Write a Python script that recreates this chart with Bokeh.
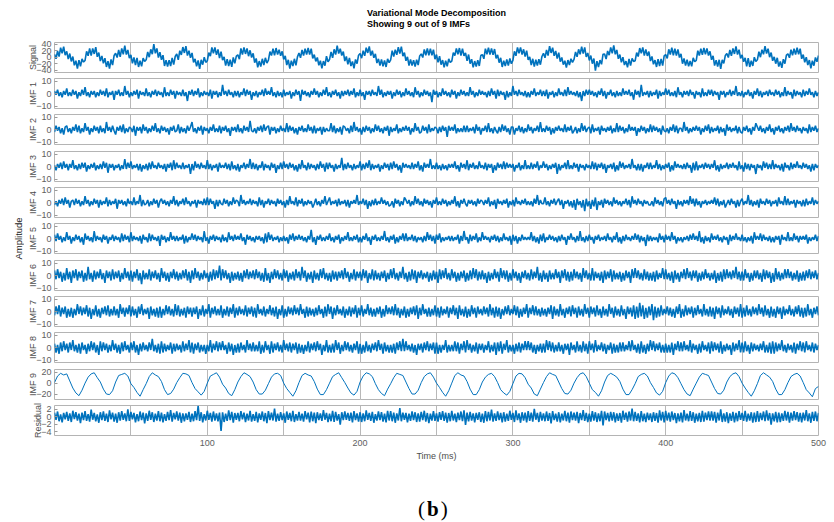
import numpy as np
from bokeh.plotting import figure
from bokeh.models import Range1d, FixedTicker, Grid, Div, Title
from bokeh.core.properties import value
from bokeh.layouts import column, row
from bokeh.embed import file_html
from bokeh.resources import INLINE

# ---------------- data (1 ms sampling, IMF 9 at 2 ms), 0..500 ms ----------------
signal = [
9,-5,19,2,29,12,32,6,18,-6,11,-13,2,-25,-11,-35,-9,-28,-5,-15,
-10,18,4,27,5,27,10,31,1,14,-12,4,-19,-3,-30,-12,-35,-7,-24,5,
12,-1,22,1,27,9,35,8,22,-3,7,-19,-1,-24,-2,-30,-11,-28,-3,-13,
-8,16,0,24,9,40,12,27,-1,15,-8,6,-27,-9,-29,-9,-27,-2,-23,2,
10,-8,20,7,31,13,34,5,20,-2,13,-16,-5,-28,-10,-36,-8,-23,0,-16,
-11,14,3,30,12,30,7,24,-3,17,-9,1,-26,-6,-27,-8,-30,-1,-19,3,
7,-6,27,8,30,10,27,3,21,-1,12,-17,-4,-31,-12,-29,-5,-24,-2,-18,
-9,17,5,26,6,28,8,23,4,18,-7,4,-24,-8,-35,-11,-27,-5,-25,1,
13,-2,22,5,26,8,28,8,26,-4,8,-13,-1,-25,-11,-34,-12,-26,3,-14,
-7,16,-2,24,8,35,11,26,5,17,-12,2,-22,-2,-27,-13,-34,-7,-20,6,
11,-3,20,4,29,13,33,5,20,-2,10,-18,-5,-26,-7,-28,-10,-30,-5,-17,
-8,20,2,23,7,31,11,32,3,14,-11,1,-26,-7,-26,-9,-29,-8,-24,4,
10,-1,24,6,27,6,26,6,23,-6,8,-16,3,-23,-9,-31,-11,-28,-5,-16,
-12,14,5,27,9,28,5,26,4,13,-11,8,-20,-6,-31,-12,-29,-9,-27,5,
8,-5,26,9,29,8,27,7,25,-4,7,-17,-2,-30,-11,-27,-7,-26,-4,-20,
-10,18,4,30,12,30,8,24,2,20,-8,1,-24,-5,-29,-8,-26,-6,-23,2,
12,-2,22,5,34,13,29,4,19,-4,14,-14,-1,-23,-11,-32,-9,-24,-5,-16,
-7,16,1,24,9,32,11,30,1,13,-10,5,-20,-4,-41,-12,-30,-9,-22,9,
10,-6,19,6,30,12,36,9,22,-5,8,-16,0,-24,-12,-31,-5,-26,-4,-13,
-11,14,2,28,12,30,5,24,4,17,-12,2,-22,-9,-30,-6,-27,-5,-26,4,
8,-4,24,8,29,6,26,5,24,-1,10,-20,-4,-26,-8,-28,-12,-28,-2,-14,
-10,20,5,26,7,28,9,27,5,18,-8,4,-26,-9,-29,-8,-36,-8,-19,5,
11,-1,22,4,27,10,33,8,23,-4,7,-14,-2,-28,-3,-30,-11,-27,0,-13,
-8,17,0,23,9,34,11,26,0,14,-11,1,-20,-2,-29,-13,-33,-6,-20,6,
10,-2,23,6,26,8,29,9,26,-5,8,-16,0,-24,-9,-34,-11,-26,-1,-14,
5,
]

imf1 = [
2,-1,3,-2,1,-3,2,-1,4,-2,1,-2,3,-1,2,-4,1,-2,3,-1,
5,-2,1,-3,2,-1,2,-3,1,-2,3,-1,2,-2,4,-3,1,-1,2,-5,
2,-1,3,-2,1,-2,6,-1,2,-3,1,-2,2,-1,3,-4,2,-1,1,-2,
4,-2,1,-3,2,-1,3,-2,2,-1,1,-3,5,-2,1,-2,3,-1,2,-4,
2,-1,1,-2,3,-2,1,-6,2,-1,3,-2,2,-1,4,-3,1,-2,2,-1,
1,-2,3,-4,2,-1,2,-3,1,-2,7,-1,2,-2,3,-1,1,-3,2,-2,
2,-3,1,-1,4,-2,3,-1,2,-5,1,-2,2,-3,1,-1,3,-2,4,-1,
2,-1,5,-2,1,-3,2,-2,1,-3,3,-2,1,-1,2,-4,1,-2,3,-1,
2,-6,3,-1,2,-2,1,-3,2,-1,4,-1,2,-3,1,-2,3,-1,5,-2,
1,-3,2,-1,3,-2,1,-4,2,-2,2,-1,3,-2,2,-1,4,-3,1,-2,
3,-2,1,-5,2,-1,2,-2,3,-1,1,-2,6,-1,3,-3,1,-2,2,-1,
2,-4,1,-2,3,-1,2,-3,1,-2,4,-1,2,-2,1,-3,5,-1,2,-3,
1,-2,3,-1,2,-2,1,-7,3,-1,2,-3,1,-2,4,-1,2,-2,1,-3,
3,-1,2,-4,1,-2,3,-1,2,-2,1,-2,5,-1,2,-3,1,-2,3,-1,
2,-1,1,-3,2,-2,4,-1,2,-4,3,-2,2,-1,1,-5,2,-3,1,-2,
6,-1,2,-2,3,-1,1,-2,2,-3,1,-3,2,-1,4,-2,1,-1,3,-2,
2,-2,3,-4,1,-1,2,-3,1,-2,4,-1,1,-2,3,-2,5,-1,2,-1,
1,-2,2,-3,1,-6,2,-2,3,-1,3,-1,2,-2,1,-3,2,-1,4,-2,
2,-4,1,-1,3,-2,1,-3,2,-2,1,-2,4,-1,2,-1,3,-2,1,-5,
3,-1,2,-3,7,-2,1,-1,2,-3,2,-2,1,-1,3,-4,2,-2,1,-1,
4,-1,3,-2,1,-2,2,-3,5,-1,1,-3,2,-1,2,-2,3,-1,1,-4,
2,-1,1,-3,4,-2,1,-2,3,-1,3,-2,2,-1,1,-5,2,-1,2,-3,
1,-1,3,-2,2,-1,6,-2,1,-2,2,-3,1,-1,3,-2,1,-4,2,-1,
4,-2,2,-3,1,-1,2,-2,3,-1,1,-2,3,-1,2,-3,1,-2,5,-2,
2,-1,1,-4,3,-2,2,-1,1,-3,3,-2,2,-1,4,-1,1,-3,2,-2,
1,
]

imf2 = [
-2,3,-1,2,-3,1,-4,2,3,-2,1,-3,2,-1,4,-2,3,-3,1,-2,
5,-1,2,-4,1,-2,3,-1,2,-3,3,-2,1,-3,6,-1,2,-2,3,-1,
-4,2,-1,3,-2,4,-3,1,-2,2,1,-2,3,-5,2,-1,2,-3,4,-1,
2,-3,1,-2,3,-1,5,-2,1,-3,3,-1,2,-2,1,-4,2,-1,3,-2,
-1,4,-3,2,-2,1,-3,3,-1,2,6,-2,1,-3,2,-1,3,-4,2,-1,
1,-3,2,-1,4,-2,1,-2,3,-3,2,-1,3,-2,1,-5,2,-1,2,-2,
4,-2,1,-3,3,-1,2,-2,7,-1,-2,1,-3,2,-1,3,-2,4,-1,2,
3,-4,2,-1,2,-3,1,-2,3,-1,1,-2,5,-2,3,-1,2,-3,1,-4,
2,-1,3,-2,1,-2,4,-1,2,-3,3,-3,1,-1,2,-4,2,-2,1,-1,
-1,5,-2,3,-3,1,-2,2,-4,3,2,-1,1,-3,3,-2,6,-1,2,-2,
1,-4,2,-2,3,-1,2,-3,1,-2,4,-1,3,-2,1,-3,2,-1,3,-5,
2,-2,1,-1,4,-3,1,-2,2,-1,3,-1,2,-4,1,-2,5,-1,2,-3,
-2,3,-1,2,-3,4,-2,1,-1,2,1,-3,2,-2,3,-1,2,-6,3,-1,
2,-1,4,-3,1,-2,1,-2,3,-2,3,-2,1,-1,2,-3,4,-1,2,-4,
1,-1,3,-2,5,-2,1,-3,2,-1,-3,2,-2,4,-1,3,-2,1,-4,2,
2,-4,1,-1,3,-2,2,-3,1,-2,4,-1,2,-3,1,-1,3,-2,6,-2,
1,-2,3,-1,2,-4,1,-3,2,-1,3,-1,1,-2,4,-2,2,-1,3,-3,
-1,2,-3,1,-2,5,-1,3,-2,1,2,-3,4,-2,1,-1,2,-4,3,-1,
1,-2,2,-1,3,-3,1,-2,5,-2,3,-1,2,-3,1,-2,4,-1,2,-1,
2,-5,1,-2,3,-1,2,-3,1,-2,4,-2,3,-1,2,-2,1,-4,3,-1,
-2,1,-3,2,-1,4,-2,3,-3,1,1,-2,6,-1,2,-3,1,-2,2,-1,
3,-1,2,-4,1,-2,3,-1,4,-3,2,-2,1,-1,3,-3,2,-2,1,-5,
4,-1,2,-2,1,-1,3,-3,2,-2,-3,2,-1,3,-2,1,-4,2,-1,5,
2,-1,3,-2,1,-3,2,-1,4,-2,1,-4,2,-1,3,-2,1,-3,2,-1,
3,-2,5,-1,2,-2,3,-1,1,-3,2,-1,1,-3,4,-2,2,-1,3,-2,
1,
]

imf3 = [
1,-3,2,-1,3,-2,4,-1,2,-3,2,-1,5,-2,1,-3,2,-2,3,-1,
3,-4,1,-2,2,-1,3,-3,1,-2,2,-2,4,-1,3,-5,2,-1,2,-3,
1,-1,2,-3,1,-2,6,-2,3,-1,4,-2,1,-1,2,-3,2,-4,1,-2,
2,-3,3,-2,4,-1,1,-2,3,-1,1,-2,2,-4,2,-1,3,-3,5,-2,
3,-1,1,-2,3,-2,1,-1,2,-6,2,-3,4,-1,2,-2,3,-1,1,-2,
5,-2,2,-3,1,-1,2,-4,3,-1,1,-1,3,-2,2,-3,4,-2,1,-3,
2,-4,1,-1,3,-2,2,-1,6,-2,3,-2,2,-3,1,-1,4,-3,2,-1,
1,-3,3,-1,2,-5,1,-2,3,-2,4,-1,2,-2,3,-1,2,-3,1,-4,
2,-2,5,-1,1,-3,3,-2,2,-1,1,-3,2,-2,4,-1,2,-4,3,-2,
3,-1,1,-4,2,-2,1,-1,7,-3,2,-2,3,-1,1,-3,2,-2,1,-1,
4,-3,2,-2,3,-1,5,-3,2,-2,1,-1,2,-4,1,-2,3,-1,2,-3,
3,-2,4,-1,2,-3,1,-5,3,-1,2,-1,1,-2,3,-2,2,-1,4,-3,
1,-4,3,-1,2,-1,6,-2,1,-2,3,-2,1,-3,2,-2,1,-3,2,-1,
2,-1,4,-2,1,-4,3,-1,2,-2,5,-3,2,-1,3,-2,1,-2,4,-1,
1,-2,3,-3,2,-1,2,-5,1,-3,3,-1,2,-2,4,-2,3,-1,2,-1,
2,-4,1,-1,3,-3,1,-2,5,-2,1,-2,3,-2,2,-1,4,-3,1,-1,
4,-1,2,-3,1,-2,2,-1,3,-6,2,-3,1,-1,3,-2,5,-2,1,-2,
3,-1,2,-4,2,-1,1,-3,2,-1,1,-2,4,-2,3,-3,2,-1,3,-2,
2,-5,1,-1,2,-2,3,-4,1,-3,4,-1,3,-2,1,-1,2,-2,6,-1,
1,-3,2,-3,2,-4,1,-1,3,-2,3,-2,1,-1,5,-2,2,-3,1,-2,
2,-1,3,-4,1,-3,4,-1,2,-1,1,-2,2,-2,3,-1,1,-5,3,-3,
4,-3,1,-1,2,-2,3,-1,2,-2,2,-1,5,-3,1,-4,2,-2,1,-1,
3,-2,2,-1,3,-1,1,-3,4,-2,1,-4,3,-2,2,-3,2,-1,1,-6,
2,-1,1,-3,4,-1,3,-2,2,-2,5,-2,2,-1,1,-3,2,-4,3,-1,
1,-3,3,-2,2,-1,4,-1,1,-2,3,-1,2,-2,1,-4,2,-3,2,-1,
1,
]

imf4 = [
-2,1,-3,2,-1,3,-2,4,-1,2,-4,1,2,-2,3,-1,2,-3,1,-2,
5,-1,2,-3,1,-2,3,-1,2,-4,2,-2,1,-1,4,-3,2,-2,1,-1,
3,-5,2,-1,2,-2,1,-3,3,-1,1,-2,4,-2,1,-1,6,-3,2,-2,
-1,2,-3,1,-2,3,-1,2,-4,1,3,-1,2,-2,1,-3,2,-1,5,-2,
2,-3,1,-1,3,-2,4,-1,1,-3,1,-1,2,-4,2,-1,1,-2,3,-2,
4,-2,3,-1,1,-5,2,-3,2,-1,-2,3,-1,2,-3,1,-2,4,-1,2,
1,-3,6,-1,2,-2,1,-1,3,-2,2,-1,1,-3,4,-2,2,-4,1,-1,
3,-2,2,-1,1,-3,3,-1,2,-2,1,-4,2,-2,5,-1,1,-2,4,-3,
2,-1,3,-3,1,-2,2,-1,1,-4,-1,3,-2,1,-3,2,-1,5,-2,1,
4,-2,1,-1,2,-3,3,-2,1,-1,2,-3,2,-4,1,-1,2,-1,6,-2,
1,-1,3,-2,2,-5,1,-3,2,-2,3,-2,1,-1,4,-1,2,-2,1,-3,
-2,1,-4,3,-1,2,-3,1,-2,4,2,-1,2,-3,1,-2,5,-1,3,-2,
1,-3,3,-1,2,-2,1,-4,2,-1,4,-2,1,-2,3,-1,2,-3,1,-2,
2,-1,5,-3,1,-4,2,-1,3,-1,-3,2,-1,2,-2,1,-3,3,-1,2,
1,-2,2,-1,4,-3,1,-2,2,-5,3,-1,1,-2,2,-1,3,-4,1,-2,
2,-3,4,-1,1,-2,2,-1,3,-2,1,-2,1,-3,3,-1,6,-2,2,-1,
-1,4,-2,1,-3,2,-1,3,-2,1,3,-2,2,-5,1,-1,2,-3,1,-4,
2,-6,3,-2,1,-4,2,-7,3,-3,1,-5,2,-3,4,-6,1,-2,2,-4,
3,-1,2,-2,1,-3,4,-1,2,-2,1,-3,1,-1,3,-2,2,-4,5,-1,
2,-2,3,-1,1,-3,2,-1,1,-2,-2,1,-3,4,-1,2,-2,1,-3,3,
4,-1,2,-2,3,-1,1,-5,2,-2,1,-3,2,-1,2,-2,5,-1,3,-3,
3,-2,1,-4,1,-1,2,-2,1,-1,2,-1,4,-2,3,-3,1,-2,2,-4,
-1,2,-2,3,-1,1,-4,2,-3,1,3,-2,1,-1,6,-2,2,-3,1,-2,
2,-4,3,-1,1,-2,3,-1,2,-3,1,-1,2,-3,4,-1,1,-2,5,-2,
3,-2,1,-1,2,-4,2,-1,1,-3,2,-3,3,-2,1,-1,4,-2,2,-1,
1,
]

imf5 = [
3,-2,4,-1,2,-3,1,-2,5,-1,2,-4,1,-2,3,-1,2,-3,1,-5,
4,-1,2,-2,1,-3,6,-2,2,-1,1,-3,3,-1,2,-4,1,-1,3,-2,
2,-1,1,-3,4,-2,3,-1,2,-3,5,-2,2,-1,1,-2,2,-4,3,-1,
1,-3,4,-2,3,-1,1,-2,2,-6,3,-1,2,-3,1,-2,5,-1,2,-2,
2,-2,1,-1,3,-4,2,-3,1,-1,4,-1,3,-2,2,-1,1,-3,6,-2,
1,-4,2,-1,3,-2,2,-1,1,-3,3,-2,1,-3,5,-1,2,-2,3,-1,
2,-1,4,-2,1,-5,3,-1,2,-2,1,-3,2,-1,2,-2,1,-4,4,-3,
5,-1,3,-2,1,-1,2,-3,1,-2,2,-2,1,-4,3,-1,4,-2,2,-1,
3,-1,2,-2,1,-3,2,-1,7,-3,1,-5,2,-1,3,-2,1,-2,2,-1,
4,-2,1,-3,2,-1,3,-4,1,-2,2,-1,5,-2,1,-2,2,-1,3,-3,
1,-3,2,-1,4,-2,1,-5,2,-1,3,-2,1,-2,2,-1,6,-2,1,-3,
2,-1,3,-4,1,-3,2,-1,4,-2,4,-2,1,-1,3,-2,2,-3,1,-1,
1,-3,2,-2,5,-1,3,-2,2,-4,3,-1,4,-3,1,-2,1,-1,2,-2,
2,-2,1,-1,3,-4,2,-2,6,-1,1,-4,3,-2,2,-1,4,-3,1,-2,
5,-1,2,-1,1,-3,2,-1,3,-2,2,-3,1,-2,4,-1,1,-2,2,-5,
3,-2,2,-4,1,-2,3,-1,1,-1,1,-1,5,-2,2,-3,1,-4,3,-2,
4,-3,1,-1,3,-1,2,-2,1,-3,2,-2,3,-1,1,-5,2,-1,4,-1,
1,-3,2,-2,6,-2,1,-3,2,-2,3,-1,1,-4,2,-1,3,-2,1,-1,
2,-2,4,-1,1,-3,2,-1,5,-3,1,-4,2,-2,3,-1,1,-2,2,-1,
4,-1,3,-3,2,-2,1,-6,3,-2,2,-2,1,-1,1,-3,4,-1,2,-3,
3,-1,2,-2,5,-1,2,-4,1,-2,1,-3,1,-1,2,-2,3,-1,4,-1,
2,-2,6,-3,1,-4,2,-2,1,-3,4,-1,2,-1,3,-2,1,-3,2,-1,
1,-5,3,-2,2,-1,4,-1,1,-2,3,-2,1,-3,1,-2,2,-4,5,-1,
2,-1,4,-2,3,-1,1,-2,2,-3,1,-3,2,-1,2,-5,3,-1,1,-2,
5,-2,1,-2,4,-1,2,-3,2,-1,2,-1,3,-4,1,-2,1,-1,3,-2,
2,
]

imf6 = [
4,-3,5,-2,3,-5,2,-4,6,-3,3,-6,4,-2,5,-4,3,-2,4,-5,
2,-4,7,-3,2,-5,4,-3,3,-2,5,-3,2,-6,4,-2,3,-4,5,-3,
3,-2,4,-5,2,-3,6,-2,3,-4,4,-5,3,-2,5,-4,2,-7,4,-3,
2,-3,5,-4,3,-2,4,-3,2,-5,6,-2,3,-4,2,-5,3,-2,5,-3,
3,-4,2,-3,4,-2,5,-4,3,-6,4,-3,6,-2,3,-4,2,-3,4,-2,
2,-5,3,-4,5,-3,4,-2,8,-4,5,-2,4,-3,2,-6,3,-4,2,-3,
3,-4,2,-5,4,-2,5,-3,3,-2,4,-3,5,-2,3,-4,2,-5,6,-4,
2,-6,3,-3,5,-2,4,-3,2,-4,5,-2,4,-5,2,-3,3,-4,5,-2,
3,-4,7,-2,4,-5,2,-3,3,-6,4,-3,2,-4,5,-2,6,-3,2,-4,
2,-5,4,-3,3,-4,3,-2,4,-3,6,-2,3,-5,2,-3,5,-4,3,-2,
3,-4,5,-2,4,-6,2,-3,5,-4,4,-3,2,-4,3,-2,4,-5,2,-3,
5,-2,6,-3,2,-4,3,-2,7,-3,2,-5,3,-4,5,-3,4,-6,3,-2,
4,-3,2,-2,3,-5,2,-4,4,-3,3,-6,5,-3,4,-2,6,-3,2,-4,
5,-2,3,-5,2,-4,3,-2,4,-5,2,-4,4,-3,6,-2,5,-4,3,-3,
4,-3,2,-6,3,-4,2,-3,5,-2,3,-5,6,-2,4,-3,4,-5,2,-4,
5,-2,3,-4,2,-6,3,-2,4,-3,2,-4,5,-3,3,-2,7,-4,2,-5,
4,-3,2,-5,4,-3,2,-3,5,-2,3,-6,4,-2,5,-4,3,-5,3,-4,
5,-2,3,-3,2,-5,6,-2,4,-3,2,-4,6,-4,3,-2,2,-4,3,-6,
4,-3,3,-2,5,-5,4,-3,2,-3,3,-5,2,-4,4,-2,3,-6,5,-2,
6,-2,4,-3,2,-4,5,-3,3,-4,2,-4,3,-5,4,-3,2,-2,6,-3,
5,-3,2,-4,3,-6,4,-3,2,-5,3,-2,5,-3,6,-2,3,-4,4,-2,
4,-5,2,-4,3,-3,5,-2,2,-4,2,-3,4,-6,2,-4,3,-5,5,-3,
5,-2,3,-3,4,-2,7,-3,3,-4,3,-4,5,-2,2,-5,2,-4,4,-2,
4,-3,2,-5,5,-3,4,-2,3,-6,2,-5,6,-3,3,-4,2,-3,5,-2,
5,-2,3,-4,2,-3,4,-5,2,-4,3,-4,4,-2,5,-3,3,-2,4,-3,
2,
]

imf7 = [
-3,4,-2,5,-4,3,-2,4,-5,2,-4,3,-5,2,-3,6,-2,4,-3,3,
-2,5,-4,3,-6,2,-3,5,-4,2,-5,3,-2,4,-3,5,-4,2,-3,4,
-3,2,-5,6,-2,3,-4,3,-2,5,-4,4,-3,2,-5,4,-2,6,-3,2,
-2,3,-6,4,-3,2,-4,3,-5,4,-5,2,-3,5,-2,4,-3,2,-4,6,
-3,5,-4,2,-3,3,-5,4,-2,3,-4,3,-2,4,-6,2,-3,5,-4,2,
-2,6,-5,3,-2,4,-3,2,-3,5,-5,2,-3,4,-4,3,-2,6,-5,3,
-3,4,-2,2,-3,5,-4,3,-2,4,-4,3,-5,6,-2,2,-3,4,-4,2,
-2,5,-3,3,-4,4,-6,2,-3,5,-5,2,-4,4,-2,3,-3,5,-2,3,
-3,6,-2,2,-5,4,-4,3,-3,2,-4,3,-3,5,-2,2,-5,4,-4,6,
-2,4,-6,3,-3,5,-2,2,-3,4,-5,2,-3,4,-4,3,-2,5,-5,3,
-3,5,-4,2,-2,6,-3,3,-4,2,-4,3,-2,4,-5,2,-4,5,-2,3,
-2,4,-3,6,-3,3,-5,2,-3,4,-5,2,-4,3,-2,4,-3,5,-6,3,
-3,6,-2,2,-4,3,-4,2,-3,5,-4,3,-5,4,-3,2,-2,4,-5,3,
-2,5,-3,3,-6,5,-3,2,-4,4,-5,2,-4,5,-2,3,-5,4,-2,2,
-3,4,-2,3,-4,6,-3,3,-5,4,-4,3,-6,2,-3,4,-2,5,-3,2,
-2,5,-3,4,-5,2,-4,3,-2,6,-5,3,-2,5,-3,4,-3,2,-4,3,
-3,2,-4,3,-2,5,-6,4,-3,2,-4,6,-3,2,-5,3,-2,4,-4,5,
-2,3,-5,4,-3,2,-4,6,-2,3,-5,4,-2,3,-4,5,-3,2,-5,4,
-3,2,-4,6,-2,3,-5,4,-3,2,-4,5,-3,2,-6,4,-2,3,-4,5,
-6,4,-5,7,-4,5,-6,3,-5,4,-3,6,-7,4,-5,3,-4,5,-3,2,
-2,4,-3,3,-4,2,-5,4,-2,6,-5,2,-4,5,-3,3,-2,4,-5,3,
-3,5,-2,2,-4,6,-3,2,-4,4,-4,3,-6,4,-2,3,-5,5,-3,2,
-2,4,-3,2,-5,4,-2,3,-4,6,-5,3,-4,5,-3,2,-4,4,-2,3,
-3,6,-2,3,-4,5,-3,2,-5,4,-4,2,-5,4,-2,3,-6,4,-3,2,
-2,5,-3,2,-4,4,-2,5,-4,3,-5,3,-4,6,-3,2,-5,3,-2,4,
-3,
]

imf8 = [
3,-4,2,-5,4,-3,5,-2,3,-4,4,-2,6,-3,2,-4,3,-5,4,-2,
2,-5,3,-3,5,-2,4,-4,2,-6,5,-3,4,-2,3,-4,2,-3,6,-2,
3,-4,2,-5,4,-3,5,-2,2,-4,4,-2,5,-4,2,-6,3,-3,4,-2,
2,-3,4,-2,7,-3,2,-4,3,-5,5,-4,3,-3,2,-2,4,-5,3,-3,
3,-2,2,-4,5,-3,3,-2,6,-4,4,-5,3,-2,4,-4,2,-3,2,-5,
2,-3,6,-4,3,-2,5,-3,4,-2,5,-2,2,-5,4,-3,3,-6,2,-4,
3,-4,4,-2,2,-4,6,-2,3,-3,4,-3,2,-3,5,-5,2,-4,5,-2,
2,-5,5,-4,3,-2,4,-3,2,-4,6,-2,3,-3,4,-4,3,-2,4,-5,
3,-4,2,-5,2,-3,5,-4,3,-2,4,-3,5,-2,3,-6,2,-3,6,-4,
2,-4,3,-4,6,-2,4,-5,2,-3,5,-2,4,-3,2,-4,3,-2,5,-5,
3,-5,2,-4,5,-3,2,-4,3,-2,4,-3,6,-2,3,-5,4,-3,2,-4,
2,-4,3,-5,4,-2,5,-3,7,-3,5,-2,2,-3,3,-4,2,-6,3,-2,
3,-4,4,-2,5,-3,3,-2,4,-5,4,-5,2,-4,2,-2,6,-4,2,-3,
2,-3,5,-3,4,-5,3,-2,5,-4,6,-2,3,-4,2,-3,4,-5,3,-2,
3,-4,2,-2,5,-4,2,-3,4,-6,4,-3,5,-5,3,-2,6,-4,2,-3,
2,-5,3,-3,4,-4,3,-2,5,-2,5,-2,4,-4,2,-5,2,-3,3,-4,
3,-4,6,-2,5,-3,4,-4,2,-3,4,-3,2,-5,3,-2,3,-6,4,-2,
2,-4,5,-3,2,-4,5,-3,3,-5,5,-2,3,-4,6,-3,2,-2,4,-3,
3,-5,2,-2,4,-5,3,-4,2,-4,4,-3,4,-3,2,-2,5,-3,6,-2,
2,-4,3,-5,5,-4,2,-5,3,-3,6,-2,5,-3,3,-2,4,-4,2,-4,
3,-4,2,-4,4,-6,3,-2,5,-3,4,-3,5,-2,2,-3,6,-4,3,-2,
2,-5,3,-4,5,-2,2,-3,4,-5,5,-3,4,-2,3,-4,5,-5,2,-3,
3,-2,2,-6,4,-3,3,-2,6,-4,4,-4,5,-3,2,-5,4,-3,3,-2,
2,-3,3,-2,5,-4,2,-4,4,-5,5,-5,4,-3,3,-2,6,-3,2,-4,
3,-2,2,-4,4,-5,3,-2,5,-3,4,-4,5,-2,2,-3,4,-4,3,-2,
2,
]

imf9 = [
1,13,18,15,17,4,-9,-18,-23,-13,0,11,17,19,10,2,-11,-20,-21,-14,
2,14,16,18,13,-1,-8,-17,-24,-12,-1,12,19,15,12,3,-12,-21,-19,-11,
1,10,18,17,14,1,-10,-16,-22,-15,0,13,16,19,11,-2,-9,-19,-23,-12,
2,12,19,16,12,2,-12,-20,-20,-13,-1,11,17,18,14,0,-10,-17,-24,-14,
1,14,18,15,13,3,-11,-21,-21,-12,0,12,16,19,10,1,-9,-18,-22,-15,
2,13,19,17,12,-1,-12,-19,-23,-11,-1,10,18,16,14,2,-10,-20,-20,-13,
1,12,17,19,11,0,-8,-17,-24,-14,0,14,19,15,13,3,-11,-21,-21,-12,
2,11,16,18,12,1,-12,-18,-22,-15,-1,13,18,17,10,-2,-9,-20,-23,-11,
1,12,19,16,14,2,-10,-19,-20,-13,0,10,17,19,12,0,-12,-17,-24,-14,
2,14,18,15,11,3,-11,-21,-21,-12,-1,12,16,18,13,1,-8,-18,-22,-15,
1,13,19,17,10,-1,-12,-20,-23,-11,0,11,18,16,14,2,-10,-19,-20,-13,
2,12,17,19,12,0,-9,-17,-24,-14,-1,14,19,15,11,3,-11,-21,-21,-12,
1,12,16,18,13,1,-12,-18,-25,-10,
-6,
]

residual = [
1.1,-0.8,1.4,-1.2,0.6,-1.5,1.0,-0.7,1.3,-1.1,0.9,-1.4,1.6,-0.6,1.2,-1.0,0.8,-1.7,1.1,-0.9,
1.5,-1.1,0.7,-1.3,1.9,-0.8,1.0,-1.2,0.6,-1.6,1.2,-0.9,1.4,-1.1,0.8,-1.4,1.7,-0.7,1.1,-1.3,
0.8,-1.6,1.2,-1.0,1.5,-0.8,0.9,-1.2,2.0,-1.1,1.3,-0.7,1.0,-1.5,0.7,-1.2,1.4,-0.9,1.1,-1.8,
0.9,-1.1,1.6,-0.8,1.2,-1.4,0.8,-1.0,1.5,-1.2,1.1,-1.5,0.7,-1.1,1.3,-0.9,1.8,-1.3,1.0,-0.7,
1.4,-1.0,1.1,-1.6,0.9,-1.2,0.9,-0.8,1.3,-1.4,0.8,-1.2,1.5,-0.9,2.9,-1.1,1.2,-1.5,0.7,-1.0,
1.6,-0.8,1.0,-1.3,1.4,-1.0,0.9,-1.2,1.1,-3.8,1.2,-1.4,0.8,-1.1,1.7,-0.9,1.3,-1.6,1.0,-0.8,
1.0,-1.2,1.5,-0.7,1.1,-1.4,0.8,-1.0,1.6,-1.3,0.7,-1.1,1.3,-1.5,0.9,-0.8,1.4,-1.2,1.0,-1.7,
1.5,-0.9,1.1,-1.0,2.2,-1.3,0.8,-1.1,1.2,-0.9,0.9,-1.6,1.4,-0.8,1.0,-1.2,1.6,-1.4,0.7,-1.0,
1.3,-1.0,0.8,-1.3,1.5,-0.7,1.1,-1.5,1.4,-1.2,1.1,-1.7,1.2,-0.9,0.9,-1.1,1.8,-0.8,1.0,-1.4,
0.8,-1.2,1.6,-1.4,1.3,-1.0,0.7,-2.1,1.2,-0.9,1.4,-0.8,1.0,-1.1,1.1,-1.5,1.5,-0.9,0.9,-1.3,
1.2,-1.4,0.9,-1.2,1.7,-0.8,1.0,-1.1,1.3,-1.6,0.7,-1.0,1.4,-0.9,1.2,-1.3,0.8,-1.5,1.6,-1.0,
1.5,-1.2,1.1,-1.6,0.9,-1.0,2.3,-1.2,1.1,-0.8,1.0,-1.5,0.8,-1.1,1.4,-0.9,1.2,-1.4,0.9,-1.3,
1.3,-0.9,1.6,-1.3,1.0,-1.7,0.8,-1.0,1.5,-1.1,0.9,-1.3,1.2,-0.8,1.5,-1.1,1.1,-1.6,1.0,-1.2,
1.6,-1.0,0.8,-1.4,1.1,-0.9,1.4,-1.2,1.7,-2.2,1.1,-1.2,1.3,-1.0,0.9,-1.5,1.0,-0.8,1.2,-1.4,
0.8,-1.6,1.5,-1.2,1.3,-1.0,1.9,-1.3,0.9,-1.1,1.4,-0.9,1.0,-1.5,1.2,-1.3,0.8,-1.1,1.6,-0.8,
1.0,-1.4,1.7,-0.9,0.9,-1.6,1.2,-1.0,1.1,-1.5,1.5,-1.1,1.1,-1.3,2.1,-0.8,1.0,-1.4,1.3,-1.0,
0.9,-1.2,1.4,-1.1,1.0,-1.8,1.5,-0.9,0.8,-1.3,1.2,-1.5,0.8,-1.0,1.6,-1.2,1.1,-1.6,1.4,-0.9,
1.1,-1.0,1.3,-1.7,1.0,-0.9,1.8,-1.1,1.0,-1.4,0.8,-1.3,1.5,-1.0,1.2,-1.4,0.9,-1.2,1.6,-2.3,
1.4,-0.9,1.0,-1.2,1.3,-1.0,1.2,-1.5,0.9,-1.1,1.0,-1.6,1.6,-0.8,1.1,-1.3,1.4,-1.0,2.2,-1.2,
1.3,-1.1,0.9,-1.5,1.5,-1.2,0.8,-1.4,1.1,-0.9,0.9,-1.4,1.2,-1.1,1.0,-1.6,1.7,-1.0,1.3,-1.5,
1.6,-1.0,1.1,-1.3,1.4,-0.9,1.0,-1.7,0.9,-1.2,1.1,-1.5,1.8,-1.0,0.8,-1.2,1.5,-1.1,1.2,-1.6,
0.8,-1.2,1.0,-1.4,1.6,-1.3,1.1,-0.9,1.4,-1.0,1.4,-1.0,1.3,-1.6,1.1,-1.0,2.0,-1.4,0.9,-1.3,
1.2,-1.7,0.9,-1.1,1.3,-1.5,1.0,-1.2,1.5,-0.8,1.0,-1.1,1.6,-1.3,0.8,-1.0,1.2,-1.6,1.1,-1.4,
1.5,-1.3,1.0,-0.9,1.4,-1.2,1.7,-1.0,1.0,-2.1,0.9,-1.2,1.3,-1.5,1.1,-1.4,0.9,-1.1,1.6,-1.0,
1.3,-1.6,1.1,-1.0,1.5,-0.9,1.2,-1.3,1.0,-1.5,1.1,-1.0,1.8,-1.2,0.9,-1.6,1.3,-1.1,1.4,-1.2,
1.0,
]

panel_names = ["Signal", "IMF 1", "IMF 2", "IMF 3", "IMF 4", "IMF 5",
               "IMF 6", "IMF 7", "IMF 8", "IMF 9", "Residual"]
panel_data = [signal, imf1, imf2, imf3, imf4, imf5, imf6, imf7, imf8, imf9, residual]
panel_ylim = [(-47, 45)] + [(-12, 12)] * 8 + [(-30, 25), (-5, 3)]
panel_yticks = [[-40, -20, 0, 20, 40]] + [[-10, 0, 10]] * 8 + [[-20, 0, 20], [-4, -2, 0, 2]]
x_tick_values = [100, 200, 300, 400, 500]
grid_values = [50, 100, 150, 200, 250, 300, 350, 400, 450]
x_start, x_end = 0, 500

title_text = "Variational Mode Decomposition\nShowing 9 out of 9 IMFs"
y_super_label = "Amplitude"
x_label = "Time (ms)"
caption_letter = "b"

# ---------------- styling ----------------
BLUE = "#0072BD"
FONT = "Liberation Sans"
LABEL_GRAY = "#4d4d4d"
TICK_GRAY = "#5e5e5e"
BOX_GRAY = "#b4b4b4"
GRID_GRAY = "#b8b8b8"
FRAME_W = 764
AMP_W = 24
LEFT = 30
RIGHT = 14
COL_H = 478

x_range = Range1d(x_start, x_end)

# title strip (invisible frame, carries the two-line title)
head = figure(frame_width=FRAME_W, frame_height=1, min_border_left=LEFT,
              min_border_right=RIGHT, min_border_top=0, min_border_bottom=0,
              x_range=Range1d(0, 1), y_range=Range1d(0, 1),
              x_axis_location=None, y_axis_location=None,
              toolbar_location=None, output_backend="svg")
head.outline_line_color = None
head.grid.visible = False
head.title = Title(text=title_text, align="center", text_font=FONT,
                   text_font_size="9px", text_font_style="bold",
                   text_color="#000000", text_line_height=1.15, standoff=9)

figs = [head]
n = len(panel_names)
for k in range(n):
    last = (k == n - 1)
    if k == 0:
        top = 8
    elif k in (3, 6, 9):
        top = 4
    else:
        top = 3
    bottom = 36 if last else 3
    p = figure(frame_width=FRAME_W, frame_height=30,
               min_border_left=LEFT, min_border_right=RIGHT,
               min_border_top=top, min_border_bottom=bottom,
               x_range=x_range, y_range=Range1d(*panel_ylim[k]),
               x_axis_location="below" if last else None,
               toolbar_location=None, output_backend="svg",
               background_fill_color="white", border_fill_color="white")
    p.outline_line_color = BOX_GRAY
    p.outline_line_width = 1
    p.ygrid.visible = False
    if last:
        p.xgrid.visible = False
    p.add_layout(Grid(dimension=0, ticker=FixedTicker(ticks=grid_values),
                      grid_line_color=GRID_GRAY, grid_line_width=1))

    ya = p.yaxis[0]
    ya.ticker = FixedTicker(ticks=panel_yticks[k])
    ya.axis_label = panel_names[k]
    ya.axis_label_text_font = FONT
    ya.axis_label_text_font_size = "9px"
    ya.axis_label_text_font_style = "normal"
    ya.axis_label_text_color = LABEL_GRAY
    ya.axis_label_standoff = -5
    ya.major_label_text_font = FONT
    ya.major_label_text_font_size = "9px"
    ya.major_label_text_color = TICK_GRAY
    ya.major_label_standoff = 3
    ya.axis_line_color = None
    ya.major_tick_in = 3
    ya.major_tick_out = 0
    ya.major_tick_line_color = "#9a9a9a"
    ya.minor_tick_line_color = None

    if last:
        xa = p.xaxis[0]
        xa.ticker = FixedTicker(ticks=x_tick_values)
        xa.axis_label = x_label
        xa.axis_label_text_font = FONT
        xa.axis_label_text_font_size = "9px"
        xa.axis_label_text_font_style = "normal"
        xa.axis_label_text_color = LABEL_GRAY
        xa.axis_label_standoff = 2
        xa.major_label_text_font = FONT
        xa.major_label_text_font_size = "9px"
        xa.major_label_text_color = TICK_GRAY
        xa.major_label_standoff = 4
        xa.axis_line_color = None
        xa.major_tick_in = 0
        xa.major_tick_out = 0
        xa.minor_tick_line_color = None

    vals = np.asarray(panel_data[k], dtype=float)
    xs = np.linspace(x_start, x_end, len(vals))
    lw = 1.0 if k == 9 else 1.6
    p.line(xs, vals, line_color=BLUE, line_width=lw)
    figs.append(p)

# narrow strip on the left carrying the shared "Amplitude" label (pixel coordinates)
amp = figure(frame_width=AMP_W, frame_height=COL_H, min_border=0,
             x_range=Range1d(0, AMP_W), y_range=Range1d(COL_H, 0),
             x_axis_location=None, y_axis_location=None,
             toolbar_location=None, output_backend="svg")
amp.outline_line_color = None
amp.grid.visible = False
amp.text(x=[AMP_W - 6], y=[238], text=[y_super_label], angle=np.pi / 2,
         text_align="center", text_baseline="middle",
         text_font=value(FONT), text_font_size="9.5px", text_color="#1a1a1a")

caption = Div(text="(<b>" + caption_letter + "</b>)", width=AMP_W + LEFT + FRAME_W + RIGHT,
              height=42,
              styles={"font-family": "'Liberation Serif', 'DejaVu Serif', serif",
                      "font-size": "21px", "line-height": "21px",
                      "letter-spacing": "2px",
                      "padding-top": "16px", "padding-left": "413px",
                      "color": "#000000", "overflow": "hidden",
                      "box-sizing": "border-box"})

layout = column(row(amp, column(*figs, spacing=0), spacing=0), caption, spacing=0)
open("out.html", "w").write(file_html(layout, INLINE))
